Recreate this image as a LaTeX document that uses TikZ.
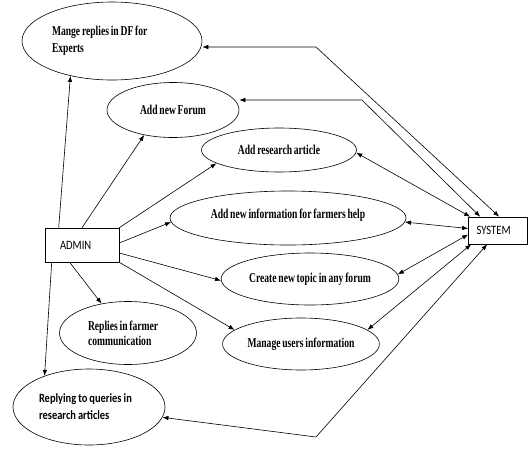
\documentclass[tikz,border=0pt]{standalone}
\usepackage{fontspec}
\setmainfont{Liberation Serif}[FakeStretch=0.71, WordSpace=0.75]
\newfontfamily\boxfont{Carlito}[FakeStretch=0.83, WordSpace=0.85]
\usetikzlibrary{shapes.geometric, arrows.meta, calc}

\begin{document}
\begin{tikzpicture}[x=1pt, y=-1pt,
  uc/.style={ellipse, draw, line width=0.6pt, inner sep=2pt, align=center,
             font=\fontsize{13.5}{17}\selectfont\bfseries},
  ucl/.style={uc, align=flush left},
  ent/.style={rectangle, draw, line width=0.6pt, inner sep=0pt, align=flush left,
              font=\boxfont\fontsize{12.8}{14}\selectfont},
  arr/.style={-{Latex[length=6pt,width=4.5pt]}, line width=0.6pt},
  dbl/.style={{Latex[length=6pt,width=4.5pt]}-{Latex[length=6pt,width=4.5pt]}, line width=0.6pt},
]
\useasboundingbox (0,0) rectangle (528,448);

%% --- Use cases ---
\node[ucl, minimum width=180pt, minimum height=78pt, text width=120pt] (mdf) at (112,41) {Mange replies in DF for\\Experts};
\node[uc, minimum width=132pt, minimum height=55pt] (forum) at (173,110) {Add new Forum};
\node[uc, minimum width=155pt, minimum height=44pt] (art) at (279,150) {Add research article};
\node[uc, minimum width=236pt, minimum height=54pt, text depth=8pt] (info) at (288,218) {Add new information for farmers help};
\node[uc, minimum width=166pt, minimum height=52pt] (topic) at (310,279) {Create new topic in any forum};
\node[uc, minimum width=149pt, minimum height=52pt] (users) at (301,344) {Manage users information};
\node[ucl, minimum width=137pt, minimum height=63pt, text width=80pt,
      font=\fontsize{13.5}{15}\selectfont\bfseries] (farm) at (128,333) {Replies in farmer\\communication};
\node[ucl, minimum width=152pt, minimum height=76pt, text width=100pt,
      font=\boxfont\fontsize{12.6}{17}\selectfont\bfseries] (query) at (89,407) {Replying to queries in\\research articles};

%% --- Actors ---
\node[ent, minimum width=74pt, minimum height=34pt, text width=44pt] (admin) at (82,245) {ADMIN};
\node[ent, minimum width=59pt, minimum height=27pt, text width=43pt] (sys) at (498,230.5) {SYSTEM};

\coordinate (k1) at (316,47);
\coordinate (k2) at (362,100);
\coordinate (k3) at (316,437);

%% --- ADMIN to use cases ---
\draw[arr] ([xshift=14pt]admin.north west) -- (mdf.220);
\draw[arr] (admin.north) -- (forum.221);
\draw[arr] (admin.north east) -- (art.192);
\draw[arr] ([yshift=2pt]admin.east) -- (info.182);
\draw[arr] ([yshift=-8pt]admin.east) -- (topic.181);
\draw[arr] (admin.south east) -- (users.168);
\draw[arr] ([xshift=25pt]admin.south west) -- (farm.132);
\draw[arr] ([xshift=7pt]admin.south west) -- (query.145);

%% --- SYSTEM to use cases ---
\draw[dbl] ([xshift=31pt]sys.north west) -- (k1) -- (k1 -| mdf.east);
\draw[dbl] ([xshift=12pt]sys.north west) -- (k2) -- (k2 -| forum.east);
\draw[dbl] ([xshift=2pt]sys.north west) -- (art.358);
\draw[dbl] ([yshift=2pt]sys.west) -- (info.358);
\draw[dbl] ([yshift=-4pt]sys.west) -- (topic.3);
\draw[dbl] ([xshift=3pt]sys.south west) -- (users.12);
\draw[dbl] ([xshift=19pt]sys.south west) -- (k3) -- (query.352);
\end{tikzpicture}
\end{document}
